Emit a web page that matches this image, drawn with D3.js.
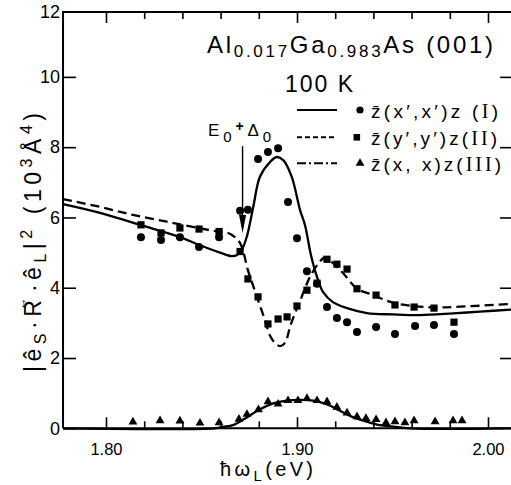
<!DOCTYPE html>
<html><head><meta charset="utf-8">
<script src="https://cdn.jsdelivr.net/npm/d3@7"></script>
<style>body{margin:0;background:#fff}svg{display:block}text{font-family:"Liberation Sans",Arial,sans-serif;fill:#000}</style>
</head><body><svg id="c" width="511" height="485"></svg>
<script>
// ---- tick definitions ----
const xMajorTicks = [1.80, 1.90, 2.00];
const xMajorLabels = ["1.80", "1.90", "2.00"];
const xMinorTicks = [1.82, 1.84, 1.86, 1.88, 1.92, 1.94, 1.96, 1.98];
const yTicks = [0, 2, 4, 6, 8, 10, 12];
const yTickLabels = ["0", "2", "4", "6", "8", "10", "12"];

// ---- measured points: series I (circles), II (squares), III (triangles) ----
const energyI = [1.8183,1.8288,1.8387,1.8487,1.8592,1.8702,1.8743,1.8796,1.8848,1.8901,1.8953,1.9000,1.9052,1.9105,1.9157,1.9209,1.9262,1.9314,1.9414,1.9513,1.9618,1.9717,1.9822];
const valuesI = [5.44,5.36,5.44,5.16,5.44,6.19,6.22,7.66,7.86,7.97,6.44,5.41,4.47,4.11,3.45,3.14,3.02,2.74,2.88,2.68,2.91,2.94,2.68];

const energyII = [1.8183,1.8288,1.8387,1.8487,1.8592,1.8702,1.8743,1.8796,1.8848,1.8901,1.8948,1.9000,1.9052,1.9105,1.9157,1.9209,1.9262,1.9314,1.9414,1.9513,1.9613,1.9717,1.9822];
const valuesII = [5.79,5.56,5.70,5.67,5.60,5.03,4.25,3.74,2.97,3.11,3.17,3.48,3.93,4.13,4.81,4.67,4.53,3.97,3.79,3.51,3.45,3.42,3.02];

const energyIII = [1.8141,1.8283,1.8387,1.8492,1.8592,1.8696,1.8738,1.8798,1.8848,1.8901,1.8953,1.9005,1.9052,1.9105,1.9157,1.9209,1.9262,1.9314,1.9361,1.9414,1.9466,1.9513,1.9565,1.9613,1.9723,1.9817,1.9864];
const valuesIII = [0.18,0.22,0.21,0.15,0.16,0.26,0.40,0.53,0.76,0.69,0.79,0.79,0.85,0.79,0.76,0.60,0.44,0.33,0.28,0.25,0.16,0.19,0.16,0.22,0.19,0.22,0.22];

// ---- theoretical curves ----
const curveIx = [1.7775,1.7969,1.8183,1.8387,1.8492,1.8597,1.8658,1.8686,1.8710,1.8737,1.8771,1.8806,1.8859,1.8894,1.8928,1.8972,1.9016,1.9042,1.9073,1.9105,1.9136,1.9188,1.9262,1.9366,1.9503,1.9644,1.9817,1.9958,2.0126];
const curveIy = [6.38,6.13,5.78,5.44,5.21,5.00,4.90,4.93,5.07,5.45,6.30,7.16,7.58,7.72,7.63,7.16,6.21,5.78,4.93,4.30,3.88,3.59,3.42,3.28,3.24,3.22,3.27,3.32,3.38];

const curveIIx = [1.7775,1.7969,1.8141,1.8319,1.8492,1.8597,1.8634,1.8675,1.8702,1.8719,1.8743,1.8764,1.8796,1.8832,1.8861,1.8890,1.8911,1.8932,1.8948,1.8963,1.8990,1.9016,1.9042,1.9068,1.9112,1.9147,1.9190,1.9242,1.9313,1.9399,1.9504,1.9609,1.9714,1.9853,2.0126];
const curveIIy = [6.52,6.30,6.07,5.88,5.69,5.59,5.57,5.44,5.27,5.02,4.50,4.16,3.65,3.08,2.61,2.40,2.34,2.40,2.57,2.88,3.28,3.62,3.99,4.31,4.69,4.86,4.69,4.41,3.98,3.79,3.57,3.48,3.44,3.46,3.54];

const curveIIIx = [1.7775,1.8571,1.8613,1.8665,1.8737,1.8806,1.8876,1.8946,1.9016,1.9085,1.9155,1.9225,1.9295,1.9365,1.9435,1.9504,1.9590,2.0126];
const curveIIIy = [0,0,0.04,0.09,0.31,0.54,0.71,0.79,0.81,0.79,0.69,0.50,0.31,0.19,0.09,0.05,0,0];

const legendPrefix = ["z\u0304(x\u2032,x\u2032)z (", "z\u0304(y\u2032,y\u2032)z(", "z\u0304(x, x)z("];
const legendNumerals = ["I", "II", "III"];
const arrowEnergy = 1.8715, arrowTop = 8.03, arrowTip = 5.56;

// ---- layout ----
const svg = d3.select("#c");
const x = d3.scaleLinear().domain([1.80, 2.00]).range([106, 488]);
const y = d3.scaleLinear().domain([0, 12]).range([428.3, 6.6]);
const xL = x(1.7775), xR = x(2.0126), yB = y(0), yT = 12;

// frame
svg.append("path").attr("d", `M${xL},${yB}V${yT}H${xR+2}M${xL},${yB}H${xR+2}M${xR},${yT}V${yB}`)
  .attr("fill", "none").attr("stroke", "#000").attr("stroke-width", 2);

// bottom axis
const gB = svg.append("g").attr("transform", `translate(0,${yB})`);
gB.call(d3.axisBottom(x).tickValues(xMajorTicks).tickSizeInner(-11).tickSizeOuter(0).tickPadding(15)
  .tickFormat((d, i) => xMajorLabels[i]));
gB.append("g").call(d3.axisBottom(x).tickValues(xMinorTicks).tickSizeInner(-7).tickSizeOuter(0).tickFormat(""));
// top axis
const gT = svg.append("g").attr("transform", `translate(0,${yT})`);
gT.call(d3.axisTop(x).tickValues(xMajorTicks).tickSizeInner(-11).tickSizeOuter(0).tickFormat(""));
gT.append("g").call(d3.axisTop(x).tickValues(xMinorTicks).tickSizeInner(-7).tickSizeOuter(0).tickFormat(""));
// left axis
const gL = svg.append("g").attr("transform", `translate(${xL},0)`);
gL.call(d3.axisLeft(y).tickValues(yTicks).tickSizeInner(-13).tickSizeOuter(0).tickPadding(3)
  .tickFormat((d, i) => yTickLabels[i]));
// right axis
const gR = svg.append("g").attr("transform", `translate(${xR},0)`);
gR.call(d3.axisRight(y).tickValues(yTicks.slice(1, -1)).tickSizeInner(-12).tickSizeOuter(0).tickFormat(""));

svg.selectAll(".domain").remove();
svg.selectAll(".tick line").attr("stroke", "#000").attr("stroke-width", 1.6);
gB.selectAll(".tick text").attr("font-size", 16.5).attr("font-family", "Liberation Sans");
gL.selectAll(".tick text").attr("font-size", 18).attr("font-family", "Liberation Sans");
gL.selectAll(".tick").filter(d => d === 12).select("text").attr("y", yT - y(12));
gL.selectAll(".tick").filter(d => d === 12).select("line").remove();

// curves
const line = d3.line().x(d => x(d[0])).y(d => y(d[1])).curve(d3.curveCatmullRom.alpha(0.5));
const plot = svg.append("g");
plot.append("path").datum(d3.zip(curveIx, curveIy)).attr("d", line)
  .attr("fill", "none").attr("stroke", "#000").attr("stroke-width", 2.3);
plot.append("path").datum(d3.zip(curveIIx, curveIIy)).attr("d", line)
  .attr("fill", "none").attr("stroke", "#000").attr("stroke-width", 2.3).attr("stroke-dasharray", "9,5");
plot.append("path").datum(d3.zip(curveIIIx, curveIIIy)).attr("d", line)
  .attr("fill", "none").attr("stroke", "#000").attr("stroke-width", 2.3);

// markers
plot.selectAll(".ptI").data(d3.zip(energyI, valuesI)).join("circle")
  .attr("cx", d => x(d[0])).attr("cy", d => y(d[1])).attr("r", 4).attr("fill", "#000");
plot.selectAll(".ptII").data(d3.zip(energyII, valuesII)).join("rect")
  .attr("x", d => x(d[0]) - 3.6).attr("y", d => y(d[1]) - 3.6).attr("width", 7.2).attr("height", 7.2).attr("fill", "#000");
const tri = d3.symbol().type(d3.symbolTriangle).size(34);
plot.selectAll(".ptIII").data(d3.zip(energyIII, valuesIII)).join("path")
  .attr("d", tri).attr("transform", d => `translate(${x(d[0])},${y(d[1])})`).attr("fill", "#000");

// arrow E0+Δ0
const ax = x(arrowEnergy);
svg.append("line").attr("x1", ax).attr("x2", ax).attr("y1", y(arrowTop)).attr("y2", y(arrowTip) - 8)
  .attr("stroke", "#000").attr("stroke-width", 1.4);
svg.append("path").attr("d", `M${ax - 3.5},${y(arrowTip) - 18}L${ax + 3.5},${y(arrowTip) - 18}L${ax},${y(arrowTip)}Z`).attr("fill", "#000");
const eLab = svg.append("text").attr("x", 208).attr("y", 135.5).attr("font-size", 17)
  .attr("textLength", 63).attr("lengthAdjust", "spacing");
eLab.append("tspan").text("E");
eLab.append("tspan").attr("dy", 6).attr("font-size", 15).text("0");
eLab.append("tspan").attr("dy", -11).attr("font-size", 14).attr("font-weight", "bold").text("+");
eLab.append("tspan").attr("dy", 5).text("\u0394");
eLab.append("tspan").attr("dy", 6).attr("font-size", 15).text("0");

// title
const t1 = svg.append("text").attr("x", 207).attr("y", 52.5).attr("font-size", 24)
  .attr("textLength", 286).attr("lengthAdjust", "spacing");
t1.append("tspan").text("Al");
t1.append("tspan").attr("dy", 4.5).attr("font-size", 17).text("0.017");
t1.append("tspan").attr("dy", -4.5).text("Ga");
t1.append("tspan").attr("dy", 4.5).attr("font-size", 17).text("0.983");
t1.append("tspan").attr("dy", -4.5).text("As (001)");
svg.append("text").attr("x", 285).attr("y", 91.5).attr("font-size", 23)
  .attr("textLength", 68).attr("lengthAdjust", "spacing").text("100 K");

// legend
const legY = [110, 137.3, 163.3];
const legW = [127, 126, 130];
const dashes = [null, "5,3", "9,3,2,3"];
legendPrefix.forEach((lab, i) => {
  svg.append("line").attr("x1", 297).attr("x2", 337).attr("y1", legY[i]).attr("y2", legY[i])
    .attr("stroke", "#000").attr("stroke-width", 2).attr("stroke-dasharray", dashes[i]);
  const tx = svg.append("text").attr("x", 371).attr("y", legY[i] + 7.5).attr("font-size", 19)
    .attr("textLength", legW[i]).attr("lengthAdjust", "spacing");
  tx.append("tspan").text(lab);
  tx.append("tspan").attr("font-family", "Liberation Serif").attr("font-size", 20).text(legendNumerals[i]);
  tx.append("tspan").text(")");
});
svg.append("circle").attr("cx", 360).attr("cy", legY[0]).attr("r", 3.6).attr("fill", "#000");
svg.append("rect").attr("x", 353.5).attr("y", legY[1] - 3.3).attr("width", 6.6).attr("height", 6.6).attr("fill", "#000");
svg.append("path").attr("d", tri).attr("transform", `translate(360,${legY[2]})`).attr("fill", "#000");

// axis titles
const xt = svg.append("text").attr("x", 220).attr("y", 476).attr("font-size", 20)
  .attr("textLength", 93).attr("lengthAdjust", "spacing");
xt.append("tspan").text("\u0127\u03c9");
xt.append("tspan").attr("dy", 5).attr("font-size", 15).text("L");
xt.append("tspan").attr("dy", -5).text("(eV)");

const yt = svg.append("text").attr("transform", "translate(41,242.5) rotate(-90)").attr("text-anchor", "middle")
  .attr("font-size", 23).attr("textLength", 259).attr("lengthAdjust", "spacing");
yt.append("tspan").text("|\u00ea");
yt.append("tspan").attr("dy", 5).attr("font-size", 16).text("S");
yt.append("tspan").attr("dy", -5).text("\u00b7R");
yt.append("tspan").attr("dx", -15).attr("dy", -15).attr("font-size", 13).text("\u2194");
yt.append("tspan").attr("dx", 1).attr("dy", 15).text("\u00b7\u00ea");
yt.append("tspan").attr("dy", 5).attr("font-size", 16).text("L");
yt.append("tspan").attr("dy", -5).text("|");
yt.append("tspan").attr("dy", -9).attr("font-size", 16).text("2");
yt.append("tspan").attr("dy", 9).text(" (10");
yt.append("tspan").attr("dy", -9).attr("font-size", 16).text("3");
yt.append("tspan").attr("dy", 9).text("\u00c5");
yt.append("tspan").attr("dy", -9).attr("font-size", 16).text("4");
yt.append("tspan").attr("dy", 9).text(")");
</script></body></html>
